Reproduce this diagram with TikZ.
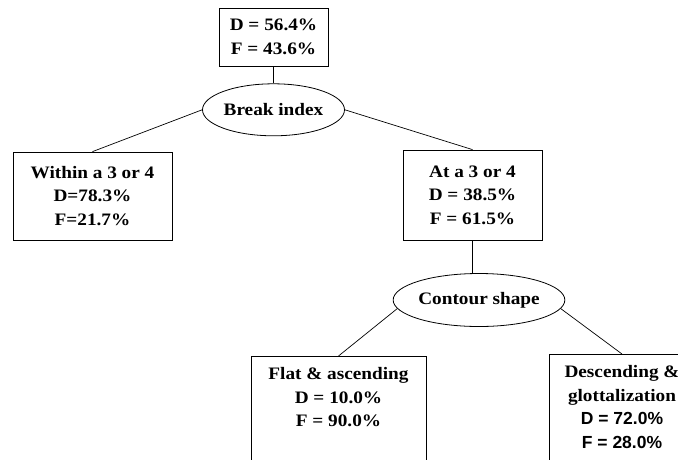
\documentclass[tikz,border=0pt]{standalone}
\usepackage{fontspec}
\setmainfont[FakeStretch=1.1]{Liberation Serif}
\newfontfamily\figsans{Liberation Sans}
\usepackage{tikz}
\usetikzlibrary{positioning, shapes.geometric}
\begin{document}
\begin{tikzpicture}[
  x=1pt, y=-1pt,
  font=\bfseries\fontsize{17.5}{23.5}\selectfont,
  figbox/.style={
    rectangle, draw=black, line width=0.8pt,
    align=center, inner sep=0pt,
  },
  figleaf/.style={
    rectangle, draw=black, line width=0.8pt,
    anchor=north, inner xsep=0pt, inner ysep=11pt,
  },
  figsplit/.style={
    ellipse, draw=black, line width=0.8pt, inner sep=0pt,
  },
  figedge/.style={
    line width=0.7pt,
  },
]
\clip (0,0) rectangle (678,459);
\node[figbox, minimum width=109pt, minimum height=58pt] (figroot) at (273.5,37) {%
  D = 56.4\%\\
  F = 43.6\%%
};
\node[figsplit, minimum width=142pt, minimum height=52pt, below=17pt of figroot] (figbreak) {Break index};
\node[figbox, minimum width=159pt, minimum height=88pt] (figwithin) at (92.5,196) {%
  Within a 3 or 4\\
  D=78.3\%\\
  F=21.7\%%
};
\node[figbox, minimum width=139pt, minimum height=90pt] (figat) at (472.5,195) {%
  At a 3 or 4\\
  D = 38.5\%\\
  F = 61.5\%%
};
\node[figsplit, minimum width=165pt, minimum height=53pt] (figcontour) at (479,300) {Contour shape};
\node[figleaf] (figflat) at (338.5,356) {%
  \parbox[t][100pt][t]{175pt}{\centering
  Flat \& ascending\\
  D = 10.0\%\\
  F = 90.0\%}%
};
\node[figleaf] (figdesc) at (622,354) {%
  \parbox[t][100pt][t]{146pt}{\centering
  Descending \&\\
  glottalization\\
  {\figsans D = 72.0\%}\\
  {\figsans F = 28.0\%}}%
};
\draw[figedge] (figroot.south) -- (figbreak.north);
\draw[figedge] (figbreak.west) -- (figwithin.north);
\draw[figedge] (figbreak.east) -- (figat.north);
\draw[figedge] (figat.south) -- (figat.south |- figcontour.north);
\draw[figedge] (figcontour.186) -- (figflat.north);
\draw[figedge] (figcontour.354) -- (figdesc.north);
\end{tikzpicture}
\end{document}
